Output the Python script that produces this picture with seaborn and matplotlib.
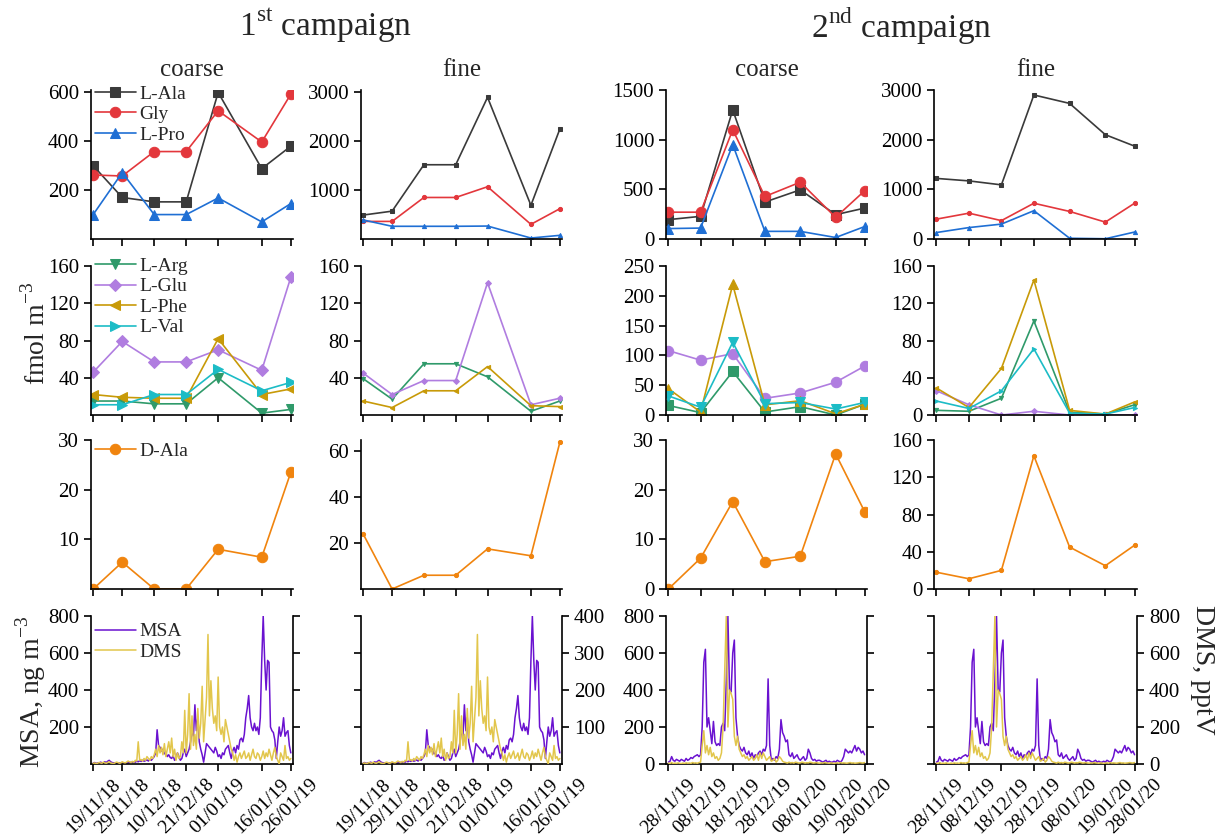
import numpy as np
import pandas as pd
import matplotlib
matplotlib.use('Agg')
import matplotlib.pyplot as plt
import seaborn as sns

sns.set_style('ticks')
plt.rcParams['font.family'] = ['Liberation Serif', 'DejaVu Serif']
plt.rcParams['mathtext.fontset'] = 'custom'
plt.rcParams['mathtext.rm'] = 'Liberation Serif'
plt.rcParams['axes.edgecolor'] = 'black'
plt.rcParams['axes.linewidth'] = 1.2
plt.rcParams['xtick.color'] = 'black'
plt.rcParams['ytick.color'] = 'black'
plt.rcParams['xtick.major.size'] = 5
plt.rcParams['ytick.major.size'] = 5
plt.rcParams['xtick.major.width'] = 1.2
plt.rcParams['ytick.major.width'] = 1.2
plt.rcParams['xtick.labelsize'] = 15
plt.rcParams['ytick.labelsize'] = 15

# sampling dates of the two campaigns
dates_1 = pd.to_datetime(['2018-11-19', '2018-11-29', '2018-12-10', '2018-12-21',
                          '2019-01-01', '2019-01-16', '2019-01-26'])
dates_2 = pd.to_datetime(['2019-11-28', '2019-12-08', '2019-12-18', '2019-12-28',
                          '2020-01-08', '2020-01-19', '2020-01-28'])
labels_1 = ['19/11/18', '29/11/18', '10/12/18', '21/12/18', '01/01/19', '16/01/19', '26/01/19']
labels_2 = ['28/11/19', '08/12/19', '18/12/19', '28/12/19', '08/01/20', '19/01/20', '28/01/20']

# fmol m-3, campaign 1 coarse / fine, campaign 2 coarse / fine
ala_1c = [300, 170, 152, 152, 600, 288, 380]
gly_1c = [262, 258, 358, 358, 525, 397, 593]
pro_1c = [100, 272, 100, 100, 168, 70, 145]
ala_1f = [490, 570, 1520, 1520, 2900, 690, 2250]
gly_1f = [360, 360, 850, 850, 1070, 300, 620]
pro_1f = [390, 260, 260, 260, 265, 20, 75]
ala_2c = [195, 228, 1300, 372, 495, 245, 311]
gly_2c = [270, 270, 1100, 428, 572, 218, 485]
pro_2c = [105, 110, 950, 77, 77, 15, 125]
ala_2f = [1220, 1170, 1090, 2900, 2730, 2100, 1870]
gly_2f = [400, 520, 370, 720, 555, 340, 720]
pro_2f = [130, 230, 300, 570, 15, 5, 140]

arg_1c = [15, 15, 12, 12, 40, 2, 6]
glu_1c = [46, 79, 57, 57, 70, 48, 148]
phe_1c = [22, 19, 18, 18, 82, 22, 28]
val_1c = [11, 11, 22, 22, 49, 26, 35]
arg_1f = [39, 17, 55, 55, 41, 4, 15]
glu_1f = [45, 22, 37, 37, 142, 11, 18]
phe_1f = [15, 8, 26, 26, 52, 10, 9]
arg_2c = [16, 4, 73, 5, 14, 0, 18]
glu_2c = [108, 92, 103, 28, 37, 55, 82]
phe_2c = [44, 5, 219, 17, 24, 2, 18]
val_2c = [32, 13, 122, 19, 21, 10, 21]
arg_2f = [5, 4, 18, 101, 3, 1, 11]
glu_2f = [26, 11, 0, 4, 0, 0, 0]
phe_2f = [29, 8, 50, 145, 5, 1, 14]
val_2f = [15, 7, 26, 71, 2, 1, 8]

dala_1c = [0, 5.4, 0, 0, 8, 6.4, 23.5]
dala_1f = [24, 0, 6, 6, 17.5, 14.5, 64]
dala_2c = [0, 6.2, 17.6, 5.5, 6.6, 27.2, 15.6]
dala_2f = [18, 11, 20, 143, 45, 25, 47]

# MSA (ng m-3) and DMS (pptV), 12-hourly
ts_start_1 = '2018-11-19'
ts_start_2 = '2019-11-28'
msa_1 = [5, 8, 3, 6, 4, 10, 7, 5, 12, 8,
         15, 20, 12, 8, 6, 5, 4, 3, 6, 5,
         8, 4, 5, 7, 6, 9, 8, 10, 12, 10,
         15, 12, 18, 14, 20, 15, 18, 22, 16, 25,
         20, 30, 40, 60, 185, 100, 90, 70, 80, 55,
         60, 40, 50, 35, 30, 45, 20, 30, 60, 40,
         20, 30, 60, 80, 40, 60, 80, 120, 180, 150,
         320, 180, 250, 120, 80, 50, 10, 60, 110, 100,
         90, 80, 70, 60, 90, 70, 40, 50, 30, 60,
         50, 80, 90, 100, 60, 30, 70, 90, 60, 100,
         80, 130, 140, 120, 160, 250, 300, 370, 250, 200,
         180, 220, 180, 200, 160, 250, 560, 800, 560, 400,
         560, 550, 200, 180, 170, 130, 30, 120, 200, 150,
         180, 250, 150, 170, 180, 100, 60]
dms_1 = [2, 3, 1, 2, 4, 3, 2, 5, 3, 2,
         4, 6, 3, 2, 1, 3, 5, 4, 2, 3,
         6, 4, 3, 5, 8, 6, 4, 7, 5, 10,
         8, 60, 10, 12, 8, 15, 10, 20, 15, 10,
         20, 15, 25, 40, 20, 50, 30, 45, 25, 55,
         20, 40, 60, 30, 70, 20, 40, 10, 30, 15,
         20, 60, 30, 145, 30, 80, 190, 40, 130, 50,
         80, 40, 150, 70, 110, 210, 60, 120, 180, 350,
         130, 225, 150, 110, 130, 90, 235, 100, 80, 100,
         60, 120, 100, 80, 60, 40, 30, 10, 25, 5,
         20, 30, 15, 25, 35, 15, 20, 30, 10, 25,
         40, 20, 15, 30, 25, 10, 20, 35, 15, 30,
         20, 40, 25, 10, 30, 45, 20, 10, 0, 30,
         20, 10, 50, 15, 20, 10, 15]
msa_2 = [10, 15, 40, 20, 15, 25, 20, 15, 25, 20,
         15, 30, 20, 25, 35, 30, 40, 45, 50, 40,
         50, 200, 550, 620, 200, 250, 180, 110, 230, 120,
         100, 110, 100, 200, 220, 180, 450, 800, 400, 390,
         600, 670, 250, 150, 100, 80, 70, 90, 60, 50,
         70, 40, 60, 30, 50, 40, 60, 70, 50, 80,
         70, 100, 460, 100, 20, 30, 20, 40, 30, 80,
         240, 170, 150, 120, 130, 50, 40, 60, 30, 40,
         50, 30, 20, 30, 40, 20, 30, 80, 60, 30,
         20, 25, 15, 20, 20, 15, 10, 15, 20, 10,
         15, 10, 10, 15, 10, 20, 15, 10, 20, 40,
         80, 70, 60, 70, 60, 80, 100, 70, 90, 80,
         60, 70, 50]
dms_2 = [5, 3, 8, 2, 5, 3, 6, 4, 2, 5,
         3, 6, 4, 5, 3, 8, 5, 6, 4, 8,
         10, 100, 180, 60, 100, 50, 90, 40, 60, 30,
         40, 20, 30, 60, 200, 500, 800, 200, 400, 380,
         350, 150, 100, 150, 80, 60, 40, 50, 30, 40,
         20, 30, 40, 20, 30, 50, 20, 60, 30, 60,
         40, 20, 30, 40, 15, 20, 30, 10, 20, 40,
         30, 15, 10, 8, 5, 10, 6, 8, 5, 10,
         8, 5, 6, 10, 8, 5, 7, 6, 10, 8,
         5, 6, 8, 5, 4, 6, 5, 8, 6, 5,
         4, 6, 5, 3, 5, 6, 4, 8, 5, 6,
         5, 4, 6, 8, 5, 6, 4, 5, 6, 8,
         6, 5, 8]

colors = {'L-Ala': '#3a3a3a', 'Gly': '#e3373c', 'L-Pro': '#1f6fd4',
          'L-Arg': '#2f9a6a', 'L-Glu': '#b07de0', 'L-Phe': '#c89a08', 'L-Val': '#1cbcc6',
          'D-Ala': '#f0840e'}
markers = {'L-Ala': 's', 'Gly': 'o', 'L-Pro': '^', 'L-Arg': 'v', 'L-Glu': 'D',
           'L-Phe': '<', 'L-Val': '>', 'D-Ala': 'o'}
markers_2c = {'L-Arg': 's', 'L-Glu': 'o', 'L-Phe': '^', 'L-Val': 'v'}
MSA_C = '#6a12d0'
DMS_C = '#e2c64c'

panels = [
    [[('L-Ala', ala_1c), ('Gly', gly_1c), ('L-Pro', pro_1c)],
     [('L-Ala', ala_1f), ('Gly', gly_1f), ('L-Pro', pro_1f)],
     [('L-Ala', ala_2c), ('Gly', gly_2c), ('L-Pro', pro_2c)],
     [('L-Ala', ala_2f), ('Gly', gly_2f), ('L-Pro', pro_2f)]],
    [[('L-Arg', arg_1c), ('L-Glu', glu_1c), ('L-Phe', phe_1c), ('L-Val', val_1c)],
     [('L-Arg', arg_1f), ('L-Glu', glu_1f), ('L-Phe', phe_1f)],
     [('L-Arg', arg_2c), ('L-Glu', glu_2c), ('L-Phe', phe_2c), ('L-Val', val_2c)],
     [('L-Arg', arg_2f), ('L-Glu', glu_2f), ('L-Phe', phe_2f), ('L-Val', val_2f)]],
    [[('D-Ala', dala_1c)], [('D-Ala', dala_1f)], [('D-Ala', dala_2c)], [('D-Ala', dala_2f)]],
]
ylims = [[(0, 610), (0, 3050), (0, 1500), (0, 3000)],
         [(0, 160), (0, 160), (0, 250), (0, 160)],
         [(0, 30), (0, 65), (0, 30), (0, 160)]]
yticks = [[[200, 400, 600], [1000, 2000, 3000], [0, 500, 1000, 1500], [0, 1000, 2000, 3000]],
          [[40, 80, 120, 160], [40, 80, 120, 160], [0, 50, 100, 150, 200, 250], [0, 40, 80, 120, 160]],
          [[10, 20, 30], [20, 40, 60], [0, 10, 20, 30], [0, 40, 80, 120, 160]]]
legend_y = [1.06, 1.085, 1.01]

W, H = 1217, 836
fig = plt.figure(figsize=(W / 100, H / 100), dpi=100)
col_px = [(91, 293), (361, 562), (666, 867), (934, 1137)]
row_px = [(90, 239), (266, 415), (440, 589), (616, 764)]
axes = [[fig.add_axes([l / W, 1 - b / H, (r - l) / W, (b - t) / H]) for (l, r) in col_px]
        for (t, b) in row_px]

camp_dates = [dates_1, dates_1, dates_2, dates_2]
camp_labels = [labels_1, labels_1, labels_2, labels_2]
pad = pd.Timedelta(hours=18)

for r in range(3):
    for c in range(4):
        ax = axes[r][c]
        coarse = c in (0, 2)
        for name, vals in panels[r][c]:
            mk = markers[name]
            if r == 1 and c == 2:
                mk = markers_2c[name]
            ms = (6 if mk == 'D' else 7.5) if coarse else 3
            sns.lineplot(x=camp_dates[c], y=vals, ax=ax, color=colors[name], marker=mk,
                         markersize=ms, markeredgecolor=colors[name], linewidth=1.2,
                         estimator=None, legend=False, label=name)
        ax.set_ylim(*ylims[r][c])
        ax.set_yticks(yticks[r][c])
        ax.set_xlim(camp_dates[c][0] - pad, camp_dates[c][-1] + pad)
        ax.set_xticks(camp_dates[c])
        ax.set_xticklabels([])
        ax.set_xlabel('')
        ax.set_ylabel('')
        sns.despine(ax=ax)
        if c == 0:
            ax.legend(loc='upper left', bbox_to_anchor=(0.0, legend_y[r]), frameon=False,
                      fontsize=14, handlelength=2.1, handletextpad=0.2, labelspacing=0.15,
                      borderaxespad=0, borderpad=0.2)

for c in range(4):
    ax = axes[3][c]
    camp = c // 2
    start = ts_start_1 if camp == 0 else ts_start_2
    msa = msa_1 if camp == 0 else msa_2
    dms = dms_1 if camp == 0 else dms_2
    t_msa = pd.date_range(start, periods=len(msa), freq='12h')
    t_dms = pd.date_range(start, periods=len(dms), freq='12h')
    sns.lineplot(x=t_msa, y=msa, ax=ax, color=MSA_C, linewidth=1.1, estimator=None,
                 legend=False, label='MSA')
    ax2 = ax.twinx()
    sns.lineplot(x=t_dms, y=dms, ax=ax2, color=DMS_C, linewidth=1.1, estimator=None,
                 legend=False, label='DMS')
    ax.set_ylim(0, 800)
    ax.set_xlim(camp_dates[c][0] - pad, camp_dates[c][-1] + pad)
    ax.set_xticks(camp_dates[c])
    ax.set_xticklabels(camp_labels[c], rotation=45, ha='center', va='top', fontsize=14)
    ax.set_xlabel('')
    ax.set_ylabel('')
    ax2.set_ylabel('')
    if camp == 0:
        ax.set_yticks([200, 400, 600, 800])
        ax2.set_ylim(0, 400)
        ax2.set_yticks([100, 200, 300, 400])
    else:
        ax.set_yticks([0, 200, 400, 600, 800])
        ax2.set_ylim(0, 800)
        ax2.set_yticks([0, 200, 400, 600, 800])
    coarse = c in (0, 2)
    ax.tick_params(axis='y', labelleft=coarse)
    ax2.tick_params(axis='y', labelright=not coarse)
    ax.spines['top'].set_visible(False)
    ax.spines['right'].set_visible(False)
    for s in ('top', 'left', 'bottom'):
        ax2.spines[s].set_visible(False)
    if c == 0:
        h1, l1 = ax.get_legend_handles_labels()
        h2, l2 = ax2.get_legend_handles_labels()
        ax2.legend(h1 + h2, l1 + l2, loc='upper left', bbox_to_anchor=(0.0, 0.98),
                   frameon=False, fontsize=14, handlelength=2.1, handletextpad=0.2,
                   labelspacing=0.15, borderaxespad=0, borderpad=0.2)

for c, txt in enumerate(['coarse', 'fine', 'coarse', 'fine']):
    axes[0][c].set_title(txt, fontsize=18, pad=10)

fig.text(326 / W, 1 - 26 / H, '1$^{\\mathrm{st}}$ campaign', ha='center', va='center', fontsize=24)
fig.text(901 / W, 1 - 26 / H, '2$^{\\mathrm{nd}}$ campaign', ha='center', va='center', fontsize=24)
fig.text(36 / W, 1 - 333 / H, 'fmol m$^{-3}$', rotation=90, ha='center', va='center', fontsize=20)
fig.text(31 / W, 1 - 692 / H, 'MSA, ng m$^{-3}$', rotation=90, ha='center', va='center', fontsize=20)
fig.text(1203 / W, 1 - 670 / H, 'DMS, pptV', rotation=270, ha='center', va='center', fontsize=20)

fig.savefig('out.png', dpi=100)
